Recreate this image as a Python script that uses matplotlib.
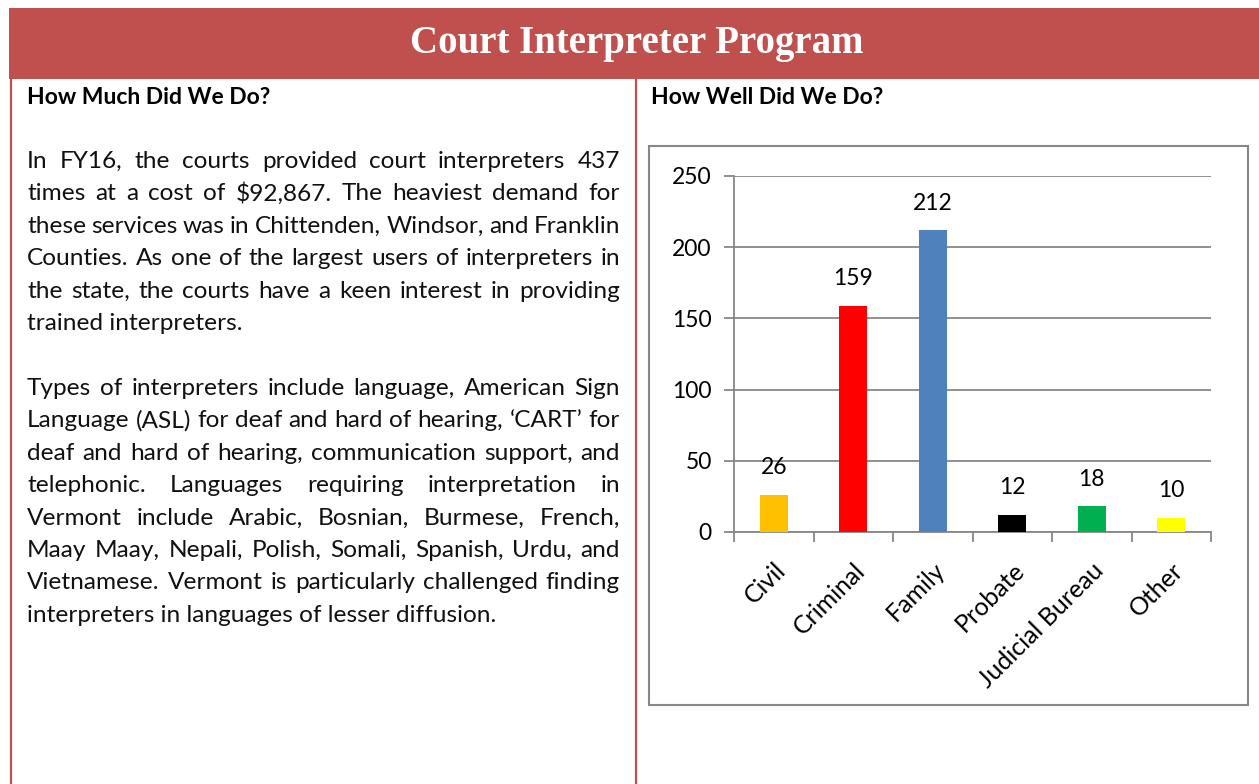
import matplotlib.pyplot as plt
from matplotlib.patches import Rectangle
from matplotlib.lines import Line2D

# chart data
categories = ["Civil", "Criminal", "Family", "Probate", "Judicial Bureau", "Other"]
counts = [26, 159, 212, 12, 18, 10]
bar_colors = ["#FFC000", "#FF0000", "#4F81BD", "#000000", "#00B050", "#FFFF00"]
y_ticks = [0, 50, 100, 150, 200, 250]

# page text
title = "Court Interpreter Program"
left_heading = "How Much Did We Do?"
right_heading = "How Well Did We Do?"
para1 = [
    "In FY16, the courts provided court interpreters 437",
    "times at a cost of $92,867. The heaviest demand for",
    "these services was in Chittenden, Windsor, and Franklin",
    "Counties. As one of the largest users of interpreters in",
    "the state, the courts have a keen interest in providing",
    "trained interpreters.",
]
para2 = [
    "Types of interpreters include language, American Sign",
    "Language (ASL) for deaf and hard of hearing, \u2018CART\u2019 for",
    "deaf and hard of hearing, communication support, and",
    "telephonic. Languages requiring interpretation in",
    "Vermont include Arabic, Bosnian, Burmese, French,",
    "Maay Maay, Nepali, Polish, Somali, Spanish, Urdu, and",
    "Vietnamese. Vermont is particularly challenged finding",
    "interpreters in languages of lesser diffusion.",
]

W, H = 1259, 784
RED = "#C0504D"
GRAY = "#878787"
FONT = "Lato"

fig = plt.figure(figsize=(W / 100, H / 100), dpi=100)
renderer = fig.canvas.get_renderer()


def fx(x):
    return x / W


def fy(y):
    return 1 - y / H


# banner and panel borders
fig.patches.append(Rectangle((fx(9), fy(79)), fx(W - 9), 71 / H, transform=fig.transFigure,
                             facecolor=RED, edgecolor="none"))
fig.text(fx(637), fy(44), title, ha="center", va="center", color="white",
         fontsize=28, fontweight="bold", family="Liberation Serif")
for xl in (11, 635.5):
    fig.lines.append(Line2D([fx(xl), fx(xl)], [fy(79), fy(H)], transform=fig.transFigure,
                            color=RED, lw=1.6))

fig.text(fx(27), fy(98), left_heading, ha="left", va="center", fontsize=16.5,
         fontweight="bold", family=FONT)
fig.text(fx(651), fy(98), right_heading, ha="left", va="center", fontsize=16.5,
         fontweight="bold", family=FONT)


def justify(line, x0, x1, y, last=False, size=17.6):
    kw = dict(fontsize=size, family=FONT, va="baseline", ha="left", color="#111111")
    if last:
        fig.text(fx(x0), fy(y), line, **kw)
        return
    words = line.split(" ")
    widths = []
    for w in words:
        t = fig.text(0, 0, w, **kw)
        widths.append(t.get_window_extent(renderer).width)
        t.remove()
    gap = (x1 - x0 - sum(widths)) / (len(words) - 1)
    x = x0
    for w, wd in zip(words, widths):
        fig.text(fx(x), fy(y), w, **kw)
        x += wd + gap


step = 32.4
for i, line in enumerate(para1):
    justify(line, 27, 620, 168 + i * step, last=(i == len(para1) - 1))
for i, line in enumerate(para2):
    justify(line, 27, 620, 395 + i * step, last=(i == len(para2) - 1))

# chart frame
fig.patches.append(Rectangle((fx(649), fy(705)), 599 / W, 559 / H, transform=fig.transFigure,
                             facecolor="none", edgecolor=GRAY, lw=1.5))

ax = fig.add_axes([fx(734), fy(532), (1211 - 734) / W, (532 - 176) / H])
xpos = list(range(len(categories)))
bars = ax.bar(xpos, counts, width=0.35, color=bar_colors, zorder=3)
ax.set_xlim(-0.5, len(categories) - 0.5)
ax.set_ylim(0, 250)
ax.set_yticks(y_ticks)
ax.grid(axis="y", color=GRAY, lw=1.3)
ax.set_axisbelow(True)
for s in ("top", "right"):
    ax.spines[s].set_visible(False)
for s in ("left", "bottom"):
    ax.spines[s].set_color(GRAY)
    ax.spines[s].set_linewidth(1.3)
ax.tick_params(axis="y", length=7, width=1.3, color=GRAY, labelsize=16.5, pad=9)
ax.set_xticks(xpos)
ax.set_xticklabels(categories, rotation=45, ha="right", rotation_mode="anchor")
ax.tick_params(axis="x", which="major", length=0, labelsize=18, pad=19)
ax.set_xticks([i - 0.5 for i in range(len(categories) + 1)], minor=True)
ax.tick_params(axis="x", which="minor", length=7, width=1.3, color=GRAY)
for lab in ax.get_xticklabels() + ax.get_yticklabels():
    lab.set_family(FONT)

for b, v in zip(bars, counts):
    ax.annotate(str(v), (b.get_x() + b.get_width() / 2, v), xytext=(0, 27),
                textcoords="offset pixels", ha="center", va="center",
                fontsize=16.5, family=FONT)

fig.savefig("out.png", dpi=100)
